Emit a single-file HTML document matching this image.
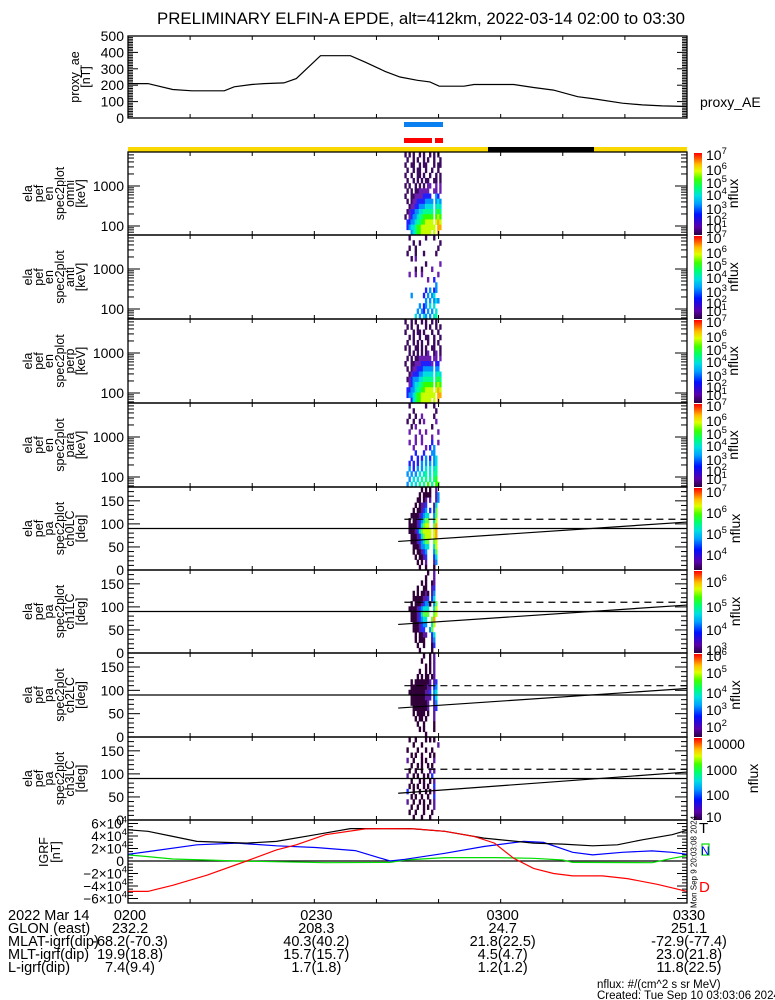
<!DOCTYPE html>
<html><head><meta charset="utf-8"><title>ELFIN-A EPDE</title>
<style>
html,body{margin:0;padding:0;background:#fff;}
svg{display:block;font-family:"Liberation Sans",sans-serif;}
</style></head>
<body>
<svg id="chart" xmlns="http://www.w3.org/2000/svg" width="775" height="1000" viewBox="0 0 775 1000">
<rect x="0" y="0" width="775" height="1000" fill="#fff"/>
<text x="421" y="24" font-size="16.5" text-anchor="middle" textLength="528" lengthAdjust="spacingAndGlyphs">PRELIMINARY ELFIN-A EPDE, alt=412km, 2022-03-14 02:00 to 03:30</text>
<defs>
<linearGradient id="rb" x1="0" y1="1" x2="0" y2="0">
<stop offset="0" stop-color="#2a0040"/><stop offset="0.1" stop-color="#5a00a8"/><stop offset="0.25" stop-color="#0010ff"/><stop offset="0.38" stop-color="#00a0ff"/><stop offset="0.48" stop-color="#00e0e0"/><stop offset="0.58" stop-color="#00ff70"/><stop offset="0.68" stop-color="#40ff00"/><stop offset="0.78" stop-color="#e0ff00"/><stop offset="0.86" stop-color="#ffc000"/><stop offset="0.94" stop-color="#ff5000"/><stop offset="1" stop-color="#ff0000"/>
</linearGradient>
</defs>
<g id="layer"></g>
<text x="8" y="920" font-size="14.5">2022 Mar 14</text>
<text x="8" y="933" font-size="14.5">GLON (east)</text>
<text x="8" y="946" font-size="14.5">MLAT-igrf(dip)</text>
<text x="8" y="959" font-size="14.5">MLT-igrf(dip)</text>
<text x="8" y="972" font-size="14.5">L-igrf(dip)</text>
<text x="597" y="988" font-size="11.5">nflux: #/(cm^2 s sr MeV)</text>
<text x="597" y="999" font-size="11.5">Created: Tue Sep 10 03:03:06 2024</text>
</svg>
<script>
// ---------- data ----------
const aeTimes = [0,3.2,7.2,10.3,15.5,17.1,19.9,21.9,25.1,27.1,31,35.8,38.2,41.4,43.8,46.6,48.6,50.1,54.1,55.7,62.1,65.3,68.5,72.4,74.8,79.6,82.8,86,90];
const aeValues = [210,210,174,166,166,190,204,210,214,240,380,380,340,284,250,230,220,194,194,204,204,186,170,130,118,90,80,74,70];
const aeTicks = [0,100,200,300,400,500];

const tTimes = [0,3.2,7.2,11.1,19.1,23.9,30.2,35.8,45.4,51,57.3,65.3,70,74.8,78.8,82.8,87.6,90];
const tValues = [50000,47500,39400,31300,28600,31300,42100,51800,51800,47500,36700,28600,27000,24300,25900,34000,42100,49100];
const nTimes = [0,3.2,11.1,17.5,23.9,30.2,36.6,42.2,44.6,51,57.3,63.7,66.9,71.6,74.8,79.6,84.4,87.6,90];
const nValues = [10800,15100,25900,28600,24300,21600,16700,0,2700,12400,23200,31300,29700,14000,9700,14000,16200,14000,10800];
const zTimes = [0,3.2,7.2,12.7,17.5,31.8,42.2,44.6,51,59,65.3,70,71.6,84.4,87.6,90];
const zValues = [9700,7000,3200,1600,0,-2700,-2200,1600,5400,5400,4300,1600,-2200,-2700,4300,8600];
const dTimes = [0,3.2,7.2,12.7,19.1,23.9,27.1,31.8,38.2,41.4,46.2,51,55.7,59,62.1,65.3,68.5,71.6,76.4,80.4,85.2,90];
const dValues = [-48600,-48600,-38900,-22700,0,17800,25900,42100,51300,51800,51300,47500,39400,28600,4300,-11900,-20000,-23800,-23800,-28100,-37300,-48600];
const igrfTicks = [-6,-4,-2,0,2,4,6];

const footerTimes = [0,30,60,90];
const footerTimeLabels = ["0200","0230","0300","0330"];
const glonVals = ["232.2","208.3","24.7","251.1"];
const mlatVals = ["-68.2(-70.3)","40.3(40.2)","21.8(22.5)","-72.9(-77.4)"];
const mltVals = ["19.9(18.8)","15.7(15.7)","4.5(4.7)","23.0(21.8)"];
const lVals = ["7.4(9.4)","1.7(1.8)","1.2(1.2)","11.8(22.5)"];

const specStart = 44.5, specStep = 0.33;
const specOmni = [
"1.1.1..1.1..1.1.1..",".1..1.1..1.1..1..1.","1..11..1.11...1.11.",".1..1.11..1..1..1..",
"1..1..11.1..1..1.1.",".1..1.1.1.11..11.1.","1.1..1.1.1.22..2.2.",".1.1.1122222..22.2.",
"1..1122223333..43..",".1.12233334444.454.","..122334445555.565.",".1233445566666.676.",
"1.234456677777.787.",".3344566778888.898.",".34556778888888.99.","...4567788888.8.9.."];
const specAnti = [
"..1.......1...1....","....1..1.........1.","..1..1..........1..",".1...1...1.....1...",
"...1.2.............","..........1......2.",".....1..1....2.....","..2..2..2.......2..",
"...........2..3....","...............4...","..........3.4.34...","...4.....3.4.45....",
"..........4.4.454..",".......4.34.5.5....","......4.43.4.4.5...",".....5.4.54.4.56..."];
const specPerp = [
"1..1.1..1.1..1.1...",".1.1..1...1.1..1.1.","1...1.11.1...1..1..","..1.1..1..11..1..1.",
".1..1.1.1..1..1.1..","1.1..11.1.1..11..1.","..1.1.1.1.12..12.1.",".1.1.11222222.22.2.",
"1..11222333332.33..",".1.12233344444.44..","..123334455555.565.",".1234445566666.676.",
"..234556677777.787.",".3344566778888.898.",".34456778888888.99.","...3567788888.8.9.."];
const specPara = [
"..1.......1...1....","....1..........1...","..1..1..2.....1....",".1..1..1.2.....2...",
"...1.2.......1.....","..2....2..2.....2..",".....2..2....2.....","..2..2..2....3..2..",
"....2.....2.3.4....",".....3...3...44....","...3..3.3.4.3.45...","..3.3.3.4.4.4.45...",
"..4.3.4.4.5.5.56...",".4.4.4.5.56.5.66...","..4.5.5.6.6.6.67...",".4.5.5.6.6.7.6.77.."];
const specPa0 = [
"........1.1.1..2...",".......1.1111..24..","......11.12.2..24..",".....1.1223...25...",
"....1.11234.3.36...","...111123455..46...","..1.11234566..57...","..1111235677..68...",
"..11123567777.78...","...1112356777.78...","...111234566..67...","....11124455..57...",
"....1.11234...46...",".....1.1123...35...","......1.1.2...24...",".......1..1...1...."];
const specPa1 = [
"...........1..2....","..........1...2....","........1.1..12....","......1..11..23....",
"....1.1.1121.24....","....11111223.35....","...1.11123441.46...","..1111234555..57...",
"...111235666..67...","...11123455..68....","....1112344..57....","....111233..46.....",
".....1.1122..35....",".....1.111...24....","......1..1...13....",".......1.....1....."];
const specPa2 = [
".........1..1.2....","........1...1.2....","..........1.1.2....",".......1..1.1.2....",
"......1.1.11.12....","...1.11111112.23...","...1111111122.34...","..11111111223.45...",
"...1111111222.35...","...111111112..24...","....11111112..23...","....1.1111.1..2....",
".....1.11.1...2....","......1..1....1....",".......1.1....1....","..........1........"];
const specPa3 = [
"..1..1....1.1.1....","....1...1.......2..",".1....1...1..1.....","...1.1..1...1.1....",
".2..1...1.1...2....","...1..1.1..1.1.....","..1..1..1...2.2....",".2..1.1..1.1.3.....",
"...1...1.1..1.2....","..1.1.1..1.1..3....",".3..1..1..1.1.2....","...1.1..1..1..3....",
".2..1..1.1..1.2....","...1..1..1.1..2....","..1..1...1...1.....","....1...1...1......"];
const paDashed = [110,110,110,110];
const paSlantStart = [62,62,62,58];
const paSlantEnd = [104,104,104,104];

// ---------- layout ----------
const X0 = 128, X1 = 687, TMAX = 90;
const xT = t => X0 + t * (X1 - X0) / TMAX;
const NS = 'http://www.w3.org/2000/svg';
const layer = document.getElementById('layer');
function mk(tag, attrs, parent) {
  const e = document.createElementNS(NS, tag);
  for (const k in attrs) e.setAttribute(k, attrs[k]);
  (parent || layer).appendChild(e);
  return e;
}
function txt(s, x, y, size, anchor, parent, fill) {
  const e = mk('text', {x: x, y: y, 'font-size': size, 'text-anchor': anchor || 'start', fill: fill || '#000'}, parent);
  e.textContent = s;
  return e;
}
function supLabel(base, exp, xRight, y, parent) {
  const e = mk('text', {x: xRight, y: y, 'font-size': 13.5, 'text-anchor': 'end'}, parent);
  const a = mk('tspan', {}, e); a.textContent = base;
  const b = mk('tspan', {dy: -6, 'font-size': 9.5}, e); b.textContent = exp;
  return e;
}
function sciLeft(base, exp, x, y, parent) {
  const e = mk('text', {x: x, y: y, 'font-size': 14}, parent);
  const a = mk('tspan', {}, e); a.textContent = base;
  const b = mk('tspan', {dy: -6, 'font-size': 9.5}, e); b.textContent = exp;
  return e;
}
function rotLabels(lines, xs, yc, parent) {
  lines.forEach((s, i) => {
    const t = mk('text', {x: xs[i], y: yc, 'font-size': 12.5, 'text-anchor': 'middle', 'dominant-baseline': 'central', transform: 'rotate(-90 ' + xs[i] + ' ' + yc + ')'}, parent);
    t.textContent = s;
    
    
  });
}
function timeTicks(top, bot, parent) {
  for (let t = 10; t < 90; t += 10) {
    const a = mk('line', {x1: xT(t), x2: xT(t), y1: top, y2: top + 4, stroke: '#000'}, parent);
    
    
    const b = mk('line', {x1: xT(t), x2: xT(t), y1: bot - 4, y2: bot, stroke: '#000'}, parent);
    
    
  }
}
function yTick(y, len, parent) {
  const a = mk('line', {x1: X0, x2: X0 + len, y1: y, y2: y, stroke: '#000'}, parent);
  
  
  const b = mk('line', {x1: X1 - len, x2: X1, y1: y, y2: y, stroke: '#000'}, parent);
  
  
}
function frame(top, bot, parent) {
  const r = mk('rect', {x: X0, y: top, width: X1 - X0, height: bot - top, fill: 'none', stroke: '#000', 'stroke-width': 1.3}, parent);
  
  
}
const palette = ['', '#3a0a5e', '#6a1fb0', '#2020ff', '#0090ff', '#00dede', '#00ff90', '#30ff00', '#c8ff00', '#ffa800'];
const paPalette = ['', '#300038', '#5a1aa0', '#2030ff', '#0090ff', '#00e0d0', '#60ff40', '#c8ff00', '#ffa800', '#ff4000'];
function drawSpec(rows, top, bot, pal, parent) {
  const g = mk('g', {}, parent);
  
  
  const h = (bot - top) / rows.length;
  const w = xT(specStep) - xT(0);
  rows.forEach((row, ri) => {
    for (let ci = 0; ci < row.length; ci++) {
      const c = row[ci];
      if (c === '.') continue;
      const r = mk('rect', {x: xT(specStart + ci * specStep), y: top + ri * h, width: w + 0.3, height: h + 0.3, fill: pal[+c]}, g);
      
      
    }
  });
}
function colorbar(top, bot, labels, ys, nfluxX, parent) {
  const r = mk('rect', {x: 694, y: top + 1, width: 8, height: bot - top - 1, fill: 'url(#rb)'}, parent);
  
  
  labels.forEach((l, i) => {
    let e;
    if (Array.isArray(l)) e = sciLeft(l[0], l[1], 706, ys[i] + 5, parent);
    else e = txt(l, 706, ys[i] + 5, 14, 'start', parent);
    
    
  });
  const yc = (top + bot) / 2;
  const n = mk('text', {x: nfluxX, y: yc, 'font-size': 14, 'text-anchor': 'middle', 'dominant-baseline': 'central', transform: 'rotate(-90 ' + nfluxX + ' ' + yc + ')'}, parent);
  n.textContent = 'nflux';
  
  
}
function polyline(times, vals, yf, color, parent, name) {
  const pts = times.map((t, i) => xT(t).toFixed(1) + ',' + yf(vals[i]).toFixed(1)).join(' ');
  const p = mk('polyline', {points: pts, fill: 'none', stroke: color, 'stroke-width': 1.2}, parent);
  
  
  return p;
}

// ---------- proxy AE panel ----------
(function () {
  const top = 36, bot = 118;
  const g = mk('g', {});
  
  
  const yA = v => bot - v * (bot - top) / 500;
  for (let v = 0; v <= 500; v += 10) yTick(yA(v), v % 100 === 0 ? 10 : 5, g);
  aeTicks.forEach(v => {
    const e = txt(String(v), 124, yA(v) + 5, 14, 'end', g);
    
    
  });
  timeTicks(top, bot, g);
  frame(top, bot, g);
  polyline(aeTimes, aeValues, yA, '#000', g, 'proxy-ae-line');
  rotLabels(['proxy_ae', '[nT]'], [75, 86], 77, g);
  const l = txt('proxy_AE', 700, 107, 14, 'start', g);
  
  
})();

// ---------- status bars ----------
(function () {
  const g = mk('g', {});
  
  
  const b1 = mk('rect', {x: 404, y: 122, width: 39, height: 5, fill: '#0a80f0'}, g);
  
  
  const b2 = mk('rect', {x: 404, y: 138, width: 28, height: 5, fill: '#ff0000'}, g);
  
  
  const b3 = mk('rect', {x: 435, y: 138, width: 8, height: 5, fill: '#ff0000'}, g);
  
  
  const b4 = mk('rect', {x: X0, y: 147, width: X1 - X0, height: 5, fill: '#f8d800'}, g);
  
  
  const b5 = mk('rect', {x: 488, y: 147, width: 106, height: 5, fill: '#000'}, g);
  
  
})();

// ---------- energy spectrogram panels ----------
const enPanels = [
  {top: 152, bot: 235, rows: specOmni, lab: 'omni', name: 'omni-spectrogram-panel'},
  {top: 235, bot: 319, rows: specAnti, lab: 'anti', name: 'anti-spectrogram-panel'},
  {top: 319, bot: 403, rows: specPerp, lab: 'perp', name: 'perp-spectrogram-panel'},
  {top: 403, bot: 487, rows: specPara, lab: 'para', name: 'para-spectrogram-panel'}
];
enPanels.forEach(p => {
  const g = mk('g', {});
  
  
  const yE = e => p.top + 34 - (Math.log10(e) - 3) * 40;
  drawSpec(p.rows, p.top, p.bot, palette, g);
  for (let d = 10; d <= 1000; d *= 10) {
    for (let k = 1; k <= 9; k++) {
      const y = yE(d * k);
      if (y < p.top + 1 || y > p.bot - 1) continue;
      yTick(y, k === 1 ? 12 : 6, g);
    }
  }
  const a = txt('1000', 124, yE(1000) + 5, 14, 'end', g);
  
  
  const b = txt('100', 124, yE(100) + 5, 14, 'end', g);
  
  
  timeTicks(p.top, p.bot, g);
  frame(p.top, p.bot, g);
  rotLabels(['ela', 'pef', 'en', 'spec2plot', p.lab, '[keV]'], [28, 39, 49, 60, 70, 81], (p.top + p.bot) / 2, g);
  colorbar(p.top, p.bot, [['10', '7'], ['10', '6'], ['10', '5'], ['10', '4'], ['10', '3'], ['10', '2'], ['10', '1']],
    [p.top + 3, p.top + 18, p.top + 31, p.top + 43, p.top + 57, p.top + 68, p.top + 76], 733, g);
});

// ---------- pitch angle panels ----------
const paPanels = [
  {top: 487, bot: 570, rows: specPa0, lab: 'ch0LC', name: 'ch0lc-pitch-angle-panel',
   cl: [['10','7'],['10','6'],['10','5'],['10','4']], cy: [5, 26, 47, 68], nx: 735},
  {top: 570, bot: 653, rows: specPa1, lab: 'ch1LC', name: 'ch1lc-pitch-angle-panel',
   cl: [['10','6'],['10','5'],['10','4'],['10','3']], cy: [12, 37, 60, 80], nx: 735},
  {top: 653, bot: 737, rows: specPa2, lab: 'ch2LC', name: 'ch2lc-pitch-angle-panel',
   cl: [['10','6'],['10','5'],['10','4'],['10','3'],['10','2']], cy: [3, 20, 40, 57, 74], nx: 735},
  {top: 737, bot: 820, rows: specPa3, lab: 'ch3LC', name: 'ch3lc-pitch-angle-panel',
   cl: ['10000','1000','100','10'], cy: [7, 33, 58, 80], nx: 753}
];
paPanels.forEach((p, pi) => {
  const g = mk('g', {});
  
  
  const yP = a => p.bot - a * (p.bot - p.top) / 180;
  drawSpec(p.rows, p.top, p.bot, paPalette, g);
  for (let a = 0; a <= 180; a += 10) yTick(yP(a), a % 50 === 0 ? 12 : 6, g);
  [150, 100, 50, 0].forEach(a => {
    const e = txt(String(a), 124, yP(a) + 5, 14, 'end', g);
    
    
  });
  const h90 = mk('line', {x1: X0, x2: X1, y1: yP(90), y2: yP(90), stroke: '#000', 'stroke-width': 1.2}, g);
  
  
  const dl = mk('line', {x1: xT(specStart), x2: X1, y1: yP(paDashed[pi]), y2: yP(paDashed[pi]), stroke: '#000', 'stroke-width': 1.2, 'stroke-dasharray': '7,5'}, g);
  
  
  const sl = mk('line', {x1: xT(specStart - 1), x2: X1, y1: yP(paSlantStart[pi]), y2: yP(paSlantEnd[pi]), stroke: '#000', 'stroke-width': 1.2}, g);
  
  
  timeTicks(p.top, p.bot, g);
  frame(p.top, p.bot, g);
  rotLabels(['ela', 'pef', 'pa', 'spec2plot', p.lab, '[deg]'], [28, 39, 49, 60, 70, 81], (p.top + p.bot) / 2, g);
  colorbar(p.top, p.bot, p.cl, p.cy.map(v => p.top + v), p.nx, g);
});

// ---------- IGRF panel ----------
(function () {
  const top = 820, bot = 903;
  const g = mk('g', {});
  
  
  const yI = v => 861 - v * 37.5 / 60000;
  for (let v = -60000; v <= 60000; v += 5000) {
    const y = yI(v);
    if (y < top || y > bot) continue;
    yTick(y, v % 20000 === 0 ? 10 : 5, g);
  }
  igrfTicks.forEach(k => {
    let e;
    if (k === 0) e = txt('0', 124, yI(0) + 5, 14, 'end', g);
    else e = supLabel((k < 0 ? '\u2212' + (-k) : String(k)) + '\u00d710', '4', 127, yI(k * 10000) + 5, g);
    
    
  });
  const z = mk('line', {x1: X0, x2: X1, y1: yI(0), y2: yI(0), stroke: '#000', 'stroke-width': 1.2}, g);
  
  
  polyline(zTimes, zValues, yI, '#00dd00', g, 'igrf-z-line');
  polyline(nTimes, nValues, yI, '#0000ff', g, 'igrf-n-line');
  polyline(tTimes, tValues, yI, '#000', g, 'igrf-t-line');
  polyline(dTimes, dValues, yI, '#ff0000', g, 'igrf-d-line');
  timeTicks(top, bot, g);
  frame(top, bot, g);
  rotLabels(['IGRF', '[nT]'], [44, 56], 852, g);
  const lt = txt('T', 699, 833, 15, 'start', g, '#000');
  
  
  const bx = mk('rect', {x: 702, y: 844, width: 7, height: 11, fill: 'none', stroke: '#00dd00', 'stroke-width': 1.2}, g);
  
  
  const ln = txt('N', 701, 855, 12, 'start', g, '#0000ff');
  
  
  const ld = txt('D', 699, 892, 15, 'start', g, '#ff0000');
  
  
  const vt = mk('text', {x: 694, y: 862, 'font-size': 8, 'text-anchor': 'middle', 'dominant-baseline': 'central', transform: 'rotate(-90 694 862)'}, g);
  vt.textContent = 'Mon Sep  9 20:03:08 2024';
  
  
})();

// ---------- footer ephemeris ----------
(function () {
  const g = mk('g', {});
  
  
  const rows = [footerTimeLabels, glonVals, mlatVals, mltVals, lVals];
  rows.forEach((arr, ri) => {
    arr.forEach((s, i) => {
      const e = txt(s, xT(footerTimes[i]) + 2, 920 + ri * 13, 14.5, 'middle', g);
      
      
    });
  });
})();
</script>
</body></html>
